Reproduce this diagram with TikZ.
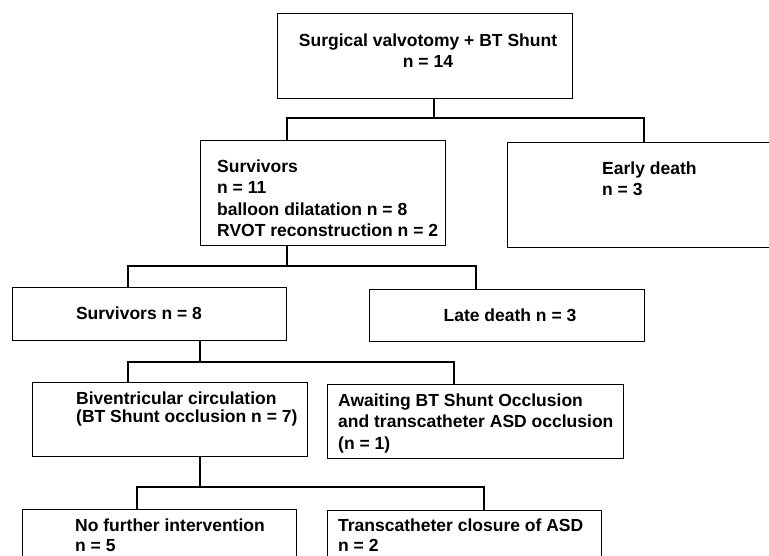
\documentclass[tikz,border=0pt]{standalone}
\usepackage{fontspec}
\setmainfont{Liberation Sans}
\begin{document}
\begin{tikzpicture}[x=1pt,y=-1pt,
  box/.style={draw, line width=1.3pt, anchor=north west, inner sep=0pt},
  lbl/.style={inner sep=0pt, font=\fontsize{17.5}{21.5}\selectfont\bfseries},
  link/.style={line width=1.2pt}]
\useasboundingbox (0,0) rectangle (769,555);
% boxes
\node[box, minimum width=295pt, minimum height=85pt] (top) at (277,13) {};
\node[box, minimum width=245pt, minimum height=105pt] (surv) at (200,140) {};
\node[box, minimum width=273pt, minimum height=105pt] (early) at (507,142) {};
\node[box, minimum width=274pt, minimum height=53pt] (s8) at (12,287) {};
\node[box, minimum width=275pt, minimum height=52pt] (late) at (369,289) {};
\node[box, minimum width=275pt, minimum height=74pt] (biv) at (32,382) {};
\node[box, minimum width=296pt, minimum height=74pt] (await) at (327,384) {};
\node[box, minimum width=274pt, minimum height=61pt] (nofur) at (22,509) {};
\node[box, minimum width=274pt, minimum height=60pt] (trans) at (327,510) {};
% texts
\node[lbl, anchor=north, align=center] (ttop) at (428,33.6) {Surgical valvotomy + BT Shunt\\n = 14};
\node[lbl, anchor=north west, align=left] (tsurv) at (217,159.6) {Survivors\\n = 11\\balloon dilatation n = 8\\RVOT reconstruction n = 2};
\node[lbl, anchor=north west, align=left] (tearly) at (602,161.6) {Early death\\n = 3};
\node[lbl] (ts8) at (139,313.5) {Survivors n = 8};
\node[lbl] (tlate) at (510,315) {Late death n = 3};
\node[lbl, anchor=north west, align=left, font=\fontsize{17.5}{18}\selectfont\bfseries] (tbiv) at (76,391.6) {Biventricular circulation\\(BT Shunt occlusion n = 7)};
\node[lbl, anchor=north west, align=left] (tawait) at (338,393.6) {Awaiting BT Shunt Occlusion\\and transcatheter ASD occlusion\\(n = 1)};
\node[lbl, anchor=north west, align=left, font=\fontsize{17.5}{20}\selectfont\bfseries] (tnofur) at (75,518.6) {No further intervention\\n = 5};
\node[lbl, anchor=north west, align=left, font=\fontsize{17.5}{20}\selectfont\bfseries] (ttrans) at (338,518.6) {Transcatheter closure of ASD\\n = 2};
% junction coordinates
\coordinate (j1) at (434,118); \coordinate (j1l) at (287,118); \coordinate (j1r) at (644,118);
\coordinate (j2) at (287,266); \coordinate (j2l) at (128,266); \coordinate (j2r) at (476,266);
\coordinate (j3) at (200,362); \coordinate (j3l) at (128,362); \coordinate (j3r) at (454,362);
\coordinate (j4) at (200,487); \coordinate (j4l) at (137,487); \coordinate (j4r) at (484,487);
% connectors
\draw[link] (j1 |- top.south) -- (j1);
\draw[link] (j1l |- surv.north) -- (j1l) -- (j1r) -- (j1r |- early.north);
\draw[link] (j2 |- surv.south) -- (j2);
\draw[link] (j2l |- s8.north) -- (j2l) -- (j2r) -- (j2r |- late.north);
\draw[link] (j3 |- s8.south) -- (j3);
\draw[link] (j3l |- biv.north) -- (j3l) -- (j3r) -- (j3r |- await.north);
\draw[link] (j4 |- biv.south) -- (j4);
\draw[link] (j4l |- nofur.north) -- (j4l) -- (j4r) -- (j4r |- trans.north);
\end{tikzpicture}
\end{document}
